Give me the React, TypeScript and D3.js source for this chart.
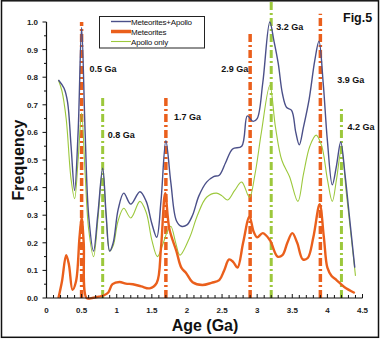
import React from "react";
import * as d3 from "d3";

const W = 380;
const H = 339;

const xTicks = [0, 0.5, 1, 1.5, 2, 2.5, 3, 3.5, 4, 4.5];
const xTickLabels = ["0", "0.5", "1", "1.5", "2", "2.5", "3", "3.5", "4", "4.5"];
const yTicks = [0, 0.1, 0.2, 0.3, 0.4, 0.5, 0.6, 0.7, 0.8, 0.9, 1.0];

const seriesNames = ["Meteorites+Apollo", "Meteorites", "Apollo only"];

const combinedAge = [0.17,0.25,0.3,0.35,0.4,0.45,0.5,0.55,0.6,0.67,0.73,0.8,0.85,0.9,0.95,1.02,1.1,1.2,1.33,1.42,1.5,1.57,1.63,1.7,1.77,1.85,1.92,2.0,2.08,2.17,2.28,2.38,2.46,2.55,2.65,2.78,2.86,2.94,3.0,3.08,3.18,3.24,3.3,3.36,3.42,3.49,3.55,3.6,3.66,3.74,3.82,3.88,3.94,4.0,4.07,4.13,4.19,4.25,4.32,4.39];
const combinedFreq = [0.79,0.76,0.71,0.55,0.39,0.6,0.98,0.6,0.3,0.17,0.3,0.47,0.3,0.17,0.2,0.32,0.38,0.34,0.385,0.35,0.27,0.22,0.35,0.57,0.42,0.28,0.26,0.265,0.3,0.37,0.42,0.44,0.445,0.49,0.54,0.55,0.66,0.64,0.65,0.78,1.0,0.93,0.85,0.74,0.69,0.68,0.6,0.555,0.62,0.72,0.86,0.93,0.78,0.57,0.41,0.48,0.565,0.45,0.28,0.11];

const apolloAge = [0.17,0.22,0.28,0.35,0.4,0.45,0.5,0.55,0.6,0.67,0.73,0.8,0.85,0.9,0.95,1.02,1.1,1.2,1.33,1.42,1.5,1.58,1.65,1.72,1.77,1.84,1.9,2.04,2.15,2.28,2.42,2.5,2.58,2.68,2.78,2.89,2.97,3.06,3.18,3.26,3.35,3.46,3.58,3.66,3.75,3.84,3.92,4.0,4.07,4.13,4.2,4.27,4.34,4.4];
const apolloFreq = [0.79,0.75,0.65,0.43,0.36,0.5,0.67,0.45,0.25,0.15,0.28,0.47,0.29,0.17,0.19,0.28,0.325,0.29,0.35,0.31,0.21,0.15,0.19,0.24,0.26,0.2,0.155,0.22,0.3,0.365,0.38,0.37,0.355,0.39,0.42,0.365,0.45,0.6,0.77,0.62,0.5,0.44,0.35,0.45,0.55,0.59,0.55,0.43,0.35,0.43,0.54,0.38,0.22,0.08];

const meteoriteAge = [0.17,0.22,0.28,0.32,0.37,0.42,0.47,0.5,0.53,0.57,0.65,0.75,0.82,0.88,0.94,1.04,1.13,1.23,1.35,1.47,1.57,1.63,1.69,1.75,1.85,1.92,1.99,2.08,2.22,2.35,2.46,2.53,2.6,2.66,2.72,2.8,2.89,2.95,3.0,3.08,3.18,3.29,3.36,3.43,3.5,3.57,3.65,3.72,3.8,3.89,3.95,4.0,4.06,4.13,4.24,4.39];
const meteoriteFreq = [0.0,0.06,0.155,0.12,0.03,0.06,0.22,0.29,0.2,0.0,0.0,0.005,0.01,0.02,0.05,0.058,0.052,0.05,0.042,0.035,0.055,0.18,0.38,0.25,0.17,0.11,0.09,0.057,0.047,0.055,0.065,0.1,0.14,0.13,0.11,0.2,0.295,0.24,0.22,0.235,0.21,0.15,0.155,0.2,0.235,0.2,0.14,0.145,0.22,0.34,0.22,0.11,0.08,0.065,0.04,0.018];

const eventAges = [0.5, 0.8, 1.7, 2.9, 3.2, 3.9, 4.2];
const eventTops = [1.0, 0.73, 0.735, 0.96, 1.09, 1.03, 0.69];
const eventKinds = ["met", "apollo", "met", "met", "apollo", "met", "apollo"];
const eventLabels = ["0.5 Ga", "0.8 Ga", "1.7 Ga", "2.9 Ga", "3.2 Ga", "3.9 Ga", "4.2 Ga"];
const labelDx = [8, 5, 8, -29, 5, 17, 6];
const labelFreq = [0.82, 0.58, 0.645, 0.82, 0.97, 0.78, 0.61];

const C_BLUE = "#4b5089";
const C_ORANGE = "#ea5f1c";
const C_GREEN = "#9cc83c";
const FONT = "Liberation Sans, Arial, sans-serif";

export default function App() {
  const x = d3.scaleLinear().domain([0, 4.5]).range([46.5, 362.5]);
  const y = d3.scaleLinear().domain([0, 1]).range([298, 22]);

  const line = d3
    .line<[number, number]>()
    .x((d) => x(d[0]))
    .y((d) => y(Math.max(0, d[1])))
    .curve(d3.curveCatmullRom.alpha(0.5));

  const zip = (a: number[], b: number[]) => a.map((v, i) => [v, b[i]] as [number, number]);

  const minorX = d3.range(0, 4.5001, 0.1);
  const minorY = d3.range(0, 1.0001, 0.05);

  return (
    <svg width={W} height={H} style={{ position: "absolute", left: 0, top: 0 }} fontFamily={FONT}>
      <rect x={0} y={0} width={W} height={H} fill="#fff" />
      <rect x={1.5} y={0.8} width={377} height={336.5} fill="none" stroke="#111" strokeWidth={1.5} />

      {/* event lines */}
      {eventAges.map((a, i) => {
        const met = eventKinds[i] === "met";
        return (
          <line
            key={"ev" + i}
            x1={x(a)}
            x2={x(a)}
            y1={y(0)}
            y2={y(eventTops[i])}
            stroke={met ? C_ORANGE : C_GREEN}
            strokeWidth={met ? 3.5 : 3}
            strokeDasharray="8,3,2,3"
          />
        );
      })}

      {/* curves */}
      <path d={line(zip(apolloAge, apolloFreq)) || ""} fill="none" stroke={C_GREEN} strokeWidth={1.1} />
      <path d={line(zip(combinedAge, combinedFreq)) || ""} fill="none" stroke={C_BLUE} strokeWidth={1.4} />
      <path d={line(zip(meteoriteAge, meteoriteFreq)) || ""} fill="none" stroke={C_ORANGE} strokeWidth={2.4} />

      {/* axes */}
      <line x1={x(0)} x2={x(4.5)} y1={y(0)} y2={y(0)} stroke="#111" strokeWidth={1.2} />
      <line x1={x(0)} x2={x(0)} y1={y(0)} y2={y(1)} stroke="#111" strokeWidth={1.2} />
      {minorX.map((t, i) => (
        <line key={"mx" + i} x1={x(t)} x2={x(t)} y1={y(0)} y2={y(0) - (i % 5 === 0 ? 4 : 3)} stroke="#111" strokeWidth={1} />
      ))}
      {minorY.map((t, i) => (
        <line key={"my" + i} x1={x(0)} x2={x(0) - (i % 2 === 0 ? 4 : 2.5)} y1={y(t)} y2={y(t)} stroke="#111" strokeWidth={1} />
      ))}
      {xTicks.map((t, i) => (
        <text key={"xt" + i} x={x(t)} y={313} textAnchor="middle" fontSize={8} fontWeight="bold" fill="#222">
          {xTickLabels[i]}
        </text>
      ))}
      {yTicks.map((t, i) => (
        <text key={"yt" + i} x={38} y={y(t) + 3} textAnchor="end" fontSize={8} fontWeight="bold" fill="#222">
          {t.toFixed(1)}
        </text>
      ))}
      <text x={205} y={331} textAnchor="middle" fontSize={16} fontWeight="bold" fill="#111">
        Age (Ga)
      </text>
      <text transform="translate(24,160) rotate(-90)" textAnchor="middle" fontSize={16} fontWeight="bold" fill="#111">
        Frequency
      </text>

      {/* event labels */}
      {eventAges.map((a, i) => (
        <text key={"el" + i} x={x(a) + labelDx[i]} y={y(labelFreq[i])} fontSize={9} fontWeight="bold" fill="#111">
          {eventLabels[i]}
        </text>
      ))}

      <text x={343} y={22} fontSize={12.5} fontWeight="bold" fill="#111">
        Fig.5
      </text>

      {/* legend */}
      <rect x={99.5} y={16.5} width={105} height={31.5} fill="#fff" stroke="#222" strokeWidth={1} />
      {seriesNames.map((n, i) => {
        const ly = 21.5 + i * 10;
        const col = [C_BLUE, C_ORANGE, C_GREEN][i];
        const sw = [1.4, 3.5, 1.1][i];
        return (
          <g key={"lg" + i}>
            <line x1={111} x2={131} y1={ly} y2={ly} stroke={col} strokeWidth={sw} />
            <text x={131} y={ly + 3} fontSize={8} fill="#111" letterSpacing={-0.2}>
              {n}
            </text>
          </g>
        );
      })}
    </svg>
  );
}
